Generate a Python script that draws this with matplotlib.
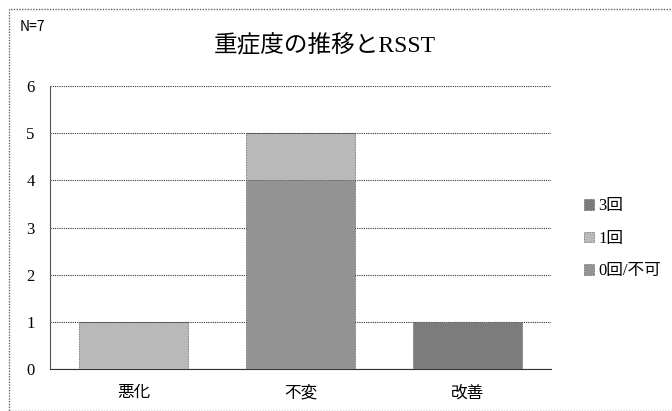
import matplotlib.pyplot as plt
from matplotlib.patches import Rectangle
import numpy as np

categories = ["悪化", "不変", "改善"]
series_names = ["0回/不可", "1回", "3回"]
zero_or_fail = [0, 4, 0]
once = [1, 1, 0]
three_times = [0, 0, 1]
colors = ["#939393", "#b9b9b9", "#7c7c7c"]

jp = ["Noto Sans CJK JP", "DejaVu Sans"]
serif = ["Liberation Serif", "Noto Sans CJK JP"]

fig = plt.figure(figsize=(6.72, 4.11), dpi=100)
ax = fig.add_axes([50 / 672, 1 - 369 / 411, 501 / 672, 283 / 411])

x = np.arange(len(categories))
bottom = np.zeros(len(categories))
handles = []
for name, vals, c in zip(series_names, [zero_or_fail, once, three_times], colors):
    bars = ax.bar(x, vals, 0.65, bottom=bottom, color=c, edgecolor="#555555",
                  linewidth=0.6, linestyle=(0, (1, 1)), label=name, zorder=3)
    handles.append(bars)
    bottom += np.array(vals)

ax.set_xlim(-0.5, 2.5)
ax.set_ylim(0, 6)
ax.set_yticks(range(7))
ax.set_yticklabels([str(i) for i in range(7)], fontfamily=serif, fontsize=12)
ax.set_xticks(x)
ax.set_xticklabels(categories, fontfamily=jp, fontsize=12)
ax.tick_params(length=0)
ax.tick_params(axis="x", pad=11)
ax.tick_params(axis="y", pad=11)
ax.yaxis.grid(True, color="#333333", linewidth=0.8, linestyle=(0, (1, 1)), zorder=0)
for side in ["top", "right"]:
    ax.spines[side].set_visible(False)
ax.spines["left"].set_linestyle((0, (1, 1)))
ax.spines["left"].set_color("#555555")
ax.spines["bottom"].set_linestyle((0, (1, 1)))
ax.spines["bottom"].set_color("#333333")

leg = ax.legend(handles[::-1], series_names[::-1], loc="center left",
                bbox_to_anchor=(1.035, 0.46), frameon=False, handlelength=0.6,
                handleheight=0.6, handletextpad=0.3, labelspacing=1.0,
                prop={"family": serif, "size": 12})

fig.text(325 / 672, 1 - 45 / 411, "重症度の推移とRSST", ha="center", va="center",
         fontsize=17, fontfamily=serif)
fig.text(20 / 672, 1 - 27 / 411, "N=7", ha="left", va="center", fontsize=10,
         fontfamily=jp)

# dotted outer frame
fig.patches.append(Rectangle((9 / 672, 0), 1, 1 - 9 / 411, transform=fig.transFigure,
                             fill=False, edgecolor="#666666", linewidth=1,
                             linestyle=(0, (1, 1))))

fig.savefig("out.png", dpi=100)
